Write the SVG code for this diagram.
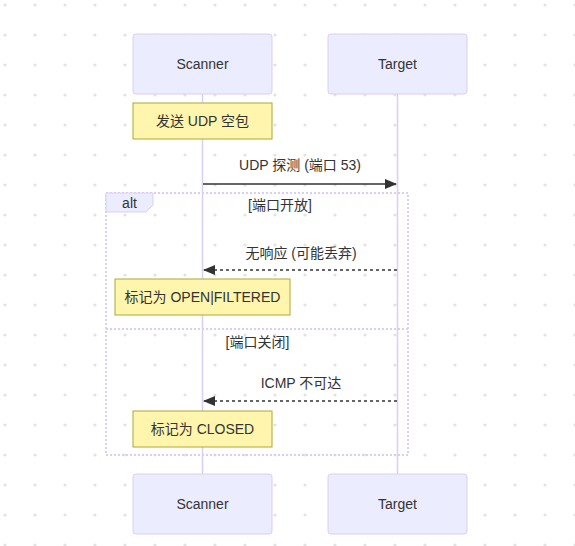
<svg xmlns="http://www.w3.org/2000/svg" width="575" height="546" viewBox="0 0 575 546">
<defs>
<pattern id="dots" x="0" y="0" width="30" height="30" patternUnits="userSpaceOnUse">
<circle cx="5" cy="5" r="1.6" fill="#e2e2e2"/>
</pattern>
<marker id="arrow" viewBox="0 0 12 12" refX="11" refY="6" markerWidth="12" markerHeight="12" markerUnits="userSpaceOnUse" orient="auto">
<path d="M0,1 L12,6 L0,11 z" fill="#333"/>
</marker>
<style>
text{font-family:"Liberation Sans","Noto Sans CJK SC",sans-serif;fill:#333;text-anchor:middle;dominant-baseline:central}
.actor{fill:#ECECFF;stroke:#DACEF2;stroke-width:1}
.note{fill:#FFF5AD;stroke:#AAAA33;stroke-width:1}
.life{stroke:#DACEF2;stroke-width:1.5}
.msg{stroke:#333;stroke-width:1.5;fill:none}
.dash{stroke-dasharray:3,3}
.loop{fill:none;stroke:#DACEF2;stroke-width:2;stroke-dasharray:2,2}
.a{font-size:14px}
.m{font-size:14px}
.n{font-size:14px}
</style>
</defs>
<rect width="575" height="546" fill="#fff"/>
<rect width="575" height="546" fill="url(#dots)"/>
<g id="lifelines">
<line class="life" x1="202.5" y1="94" x2="202.5" y2="474"/>
<line class="life" x1="397.5" y1="94" x2="397.5" y2="474"/>
</g>
<g id="actor-scanner-top"><rect class="actor" x="133" y="34" width="139" height="60" rx="3"/><text class="a" x="202.5" y="64">Scanner</text></g>
<g id="actor-target-top"><rect class="actor" x="328" y="34" width="139" height="60" rx="3"/><text class="a" x="397.5" y="64">Target</text></g>
<g id="actor-scanner-bottom"><rect class="actor" x="133" y="474" width="139" height="60" rx="3"/><text class="a" x="202.5" y="504">Scanner</text></g>
<g id="actor-target-bottom"><rect class="actor" x="328" y="474" width="139" height="60" rx="3"/><text class="a" x="397.5" y="504">Target</text></g>
<g id="alt-block">
<rect class="loop" x="106" y="193" width="302" height="262"/>
<line class="loop" x1="106" y1="329" x2="408" y2="329"/>
<polygon points="106,193 153,193 153,205 146,212 106,212" fill="#ECECFF" stroke="#DACEF2" stroke-width="1"/>
<text class="m" x="129.5" y="203">alt</text>
<text class="m" x="280" y="205">[端口开放]</text>
<text class="m" x="257.5" y="342">[端口关闭]</text>
</g>
<g id="note1"><rect class="note" x="133" y="103" width="139" height="36"/><text class="n" x="202.5" y="121">发送 UDP 空包</text></g>
<g id="note2"><rect class="note" x="115" y="279" width="175" height="36"/><text class="n" x="202.5" y="297">标记为 OPEN|FILTERED</text></g>
<g id="note3"><rect class="note" x="133" y="411" width="139" height="36"/><text class="n" x="202.5" y="429">标记为 CLOSED</text></g>
<g id="connectors">
<line class="msg" x1="203" y1="184" x2="396" y2="184" marker-end="url(#arrow)"/>
<line class="msg dash" x1="397" y1="270" x2="204" y2="270" marker-end="url(#arrow)"/>
<line class="msg dash" x1="397" y1="401" x2="204" y2="401" marker-end="url(#arrow)"/>
</g>
<g id="labels">
<text class="m" x="300" y="165">UDP 探测 (端口 53)</text>
<text class="m" x="301" y="253">无响应 (可能丢弃)</text>
<text class="m" x="301" y="383">ICMP 不可达</text>
</g>
</svg>
